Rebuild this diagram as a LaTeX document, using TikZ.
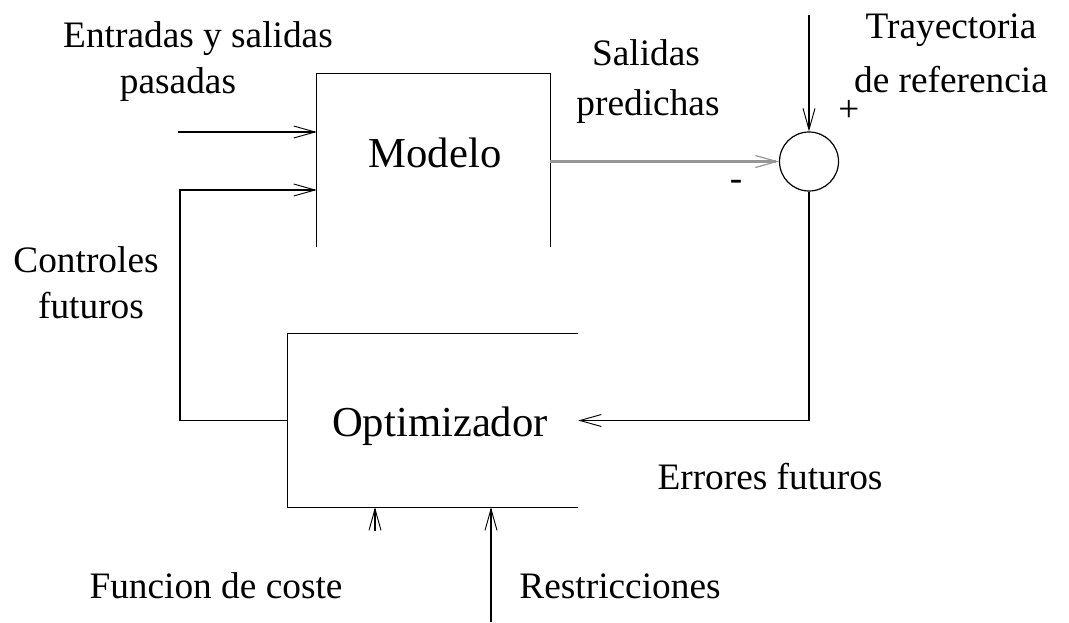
\documentclass[tikz,border=0pt]{standalone}
\usepackage{fontspec}
\setmainfont{Liberation Serif}
\usetikzlibrary{arrows.meta}
\tikzset{
  lbl/.style={font=\fontsize{28}{32}\selectfont, inner sep=0pt, anchor=base},
  boxlbl/.style={font=\fontsize{32}{36}\selectfont, inner sep=0pt},
  openbox/.style={draw=none, inner sep=0pt},
  wire/.style={line width=1pt, black},
  arr/.style={wire, -{Straight Barb[length=16pt,width=9pt,line width=0.7pt]}},
  grayarr/.style={line width=1.6pt, draw={rgb,255:red,150;green,150;blue,150},
     -{Straight Barb[length=16pt,width=9pt,line width=0.9pt]}},
}
\begin{document}
\begin{tikzpicture}[x=0.75pt,y=-0.75pt]
\useasboundingbox (0,0) rectangle (1069,622);
% boxes
\node[openbox, minimum width=174.75pt, minimum height=129.75pt] (modelo) at (433.5,160.5) {};
\node[openbox, minimum width=217.5pt, minimum height=129.75pt] (opt) at (433,420.5) {};
\draw[wire] (modelo.south west) -- (modelo.north west) -- (modelo.north east) -- (modelo.south east);
\draw[wire] (opt.north east) -- (opt.north west) -- (opt.south west) -- (opt.south east);
\node[boxlbl] (modelolbl) at (435,153) {Modelo};
\node[boxlbl] (optlbl) at (440,426) {Optimizador};
% summing junction
\node[draw, circle, line width=0.9pt, minimum size=44.25pt, inner sep=0pt] (sum) at (809,161.5) {};
% coordinates for free ends
\coordinate (in1) at (178,132);
\coordinate (c1) at (180,190);
\coordinate (ref) at (809,15);
\coordinate (cost) at (375,531);
\coordinate (restr) at (491,622);
% connectors
\draw[arr] (in1) -- (in1 -| modelo.west);
\draw[arr] (opt.west) -| (c1) -- (c1 -| modelo.west);
\draw[grayarr] (sum -| modelo.east) -- (sum.west);
\draw[arr, line width=0.8pt] (ref) -- (sum.north);
\draw[arr] (sum.south) |- (opt.east);
\draw[arr] (cost) -- (cost |- opt.south);
\draw[arr] (restr) -- (restr |- opt.south);
% signs
\node[lbl] (plus) at (849,121) {+};
\node[lbl] (minus) at (736,190) {-};
% labels
\node[lbl] (ent1) at (198,47) {Entradas y salidas};
\node[lbl] (ent2) at (178,93) {pasadas};
\node[lbl] (sal1) at (646,65) {Salidas};
\node[lbl] (sal2) at (648,115) {predichas};
\node[lbl] (tra1) at (951,38) {Trayectoria};
\node[lbl] (tra2) at (951,92) {de referencia};
\node[lbl] (con1) at (86,272) {Controles};
\node[lbl] (con2) at (91,318) {futuros};
\node[lbl] (err) at (770,489) {Errores futuros};
\node[lbl] (fun) at (216,598) {Funcion de coste};
\node[lbl] (res) at (620,598) {Restricciones};
\end{tikzpicture}
\end{document}
